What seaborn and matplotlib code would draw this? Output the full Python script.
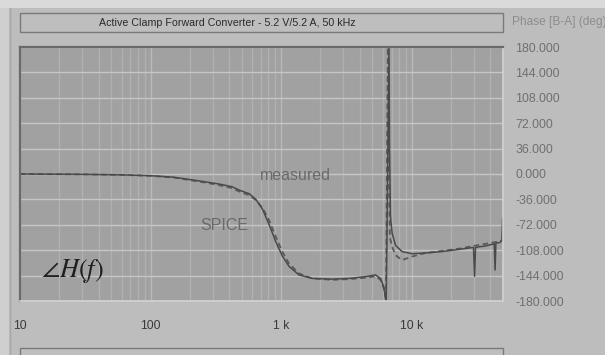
import numpy as np
import pandas as pd
import matplotlib
matplotlib.use("Agg")
import matplotlib.pyplot as plt
import seaborn as sns
from matplotlib.patches import Rectangle
from matplotlib.ticker import FixedLocator, NullFormatter

# ---------------- data ----------------
meas_freq = [10, 30, 60, 100, 150, 240, 330, 420, 480, 570, 640, 720, 810, 910,
             1020, 1150, 1370, 1730, 2470, 3300, 4430, 5280, 5770, 6110, 6290, 6380,
             6700, 6760, 6870, 7080, 7510, 8440, 10050, 12700, 17000, 22800, 29700,
             30300, 30800, 36500, 42800, 43500, 44100, 47500, 49000, 49700]
meas_phase = [0, -0.5, -1.2, -2.4, -4.5, -10, -14, -18, -23, -28, -36, -50, -72, -96,
              -116, -131, -143, -148, -149, -148, -145.5, -143, -148, -160, -175, -179.5,
              179.5, 40, -60, -84, -101, -110, -113, -112, -110, -107, -104,
              -145, -104, -102, -99, -136, -98, -97, -94, -62]

spice_freq = [10, 30, 60, 100, 150, 240, 330, 420, 480, 570, 640, 720, 810, 910,
              1020, 1150, 1370, 1730, 2470, 3300, 4430, 5280, 5770, 6110, 6290, 6350,
              6560, 6680, 6800, 7080, 7510, 8440, 10050, 12700, 17000, 22800, 29700,
              36500, 42300, 47500, 50000]
spice_phase = [0, -0.5, -1.3, -2.6, -5, -11, -15.5, -20, -25, -30, -37, -48, -66, -89,
               -110, -127, -141, -148, -150, -149, -147, -145, -150, -162, -174, -179.5,
               179.5, 0, -90, -103, -115, -122, -117, -112, -109, -106, -102,
               -99, -97, -95, -94]

y_ticks = [180, 144, 108, 72, 36, 0, -36, -72, -108, -144, -180]
x_ticks = [10, 100, 1000, 10000]
x_tick_labels = ["10", "100", "1 k", "10 k"]

title_text = "Active Clamp Forward Converter - 5.2 V/5.2 A, 50 kHz"
axis_title = "Phase [B-A] (deg)"

# ---------------- figure ----------------
sns.set_style("white")
plt.rcParams["font.family"] = ["Liberation Sans", "DejaVu Sans"]

W, H = 605, 355
fig = plt.figure(figsize=(W / 100, H / 100), dpi=100)
fig.patch.set_facecolor("#bdbdbd")

def fx(px):
    return px / W

def fy(py):
    return 1 - py / H

# lighter outer strips
fig.patches.append(Rectangle((0, fy(8)), 1, 8 / H, transform=fig.transFigure,
                             facecolor="#dadada", edgecolor="none", zorder=0))
fig.patches.append(Rectangle((0, 0), fx(9), fy(8), transform=fig.transFigure,
                             facecolor="#cfcfcf", edgecolor="none", zorder=0))
fig.lines.append(plt.Line2D([fx(9.5), fx(9.5)], [0, fy(8)], transform=fig.transFigure,
                            color="#a8a8a8", lw=1))

# title box
fig.patches.append(Rectangle((fx(20), fy(32)), fx(483), 19 / H, transform=fig.transFigure,
                             facecolor="#bebebe", edgecolor="#7a7a7a", lw=1.0, zorder=1))
fig.text(fx(227), fy(22.5), title_text, ha="center", va="center", fontsize=7.7,
         color="#2a2a2a")
fig.text(fx(512), fy(22.5), axis_title, ha="left", va="center", fontsize=8.6,
         color="#8c8c8c")

# bottom box
fig.patches.append(Rectangle((fx(20), fy(365)), fx(483), 17 / H, transform=fig.transFigure,
                             facecolor="#bebebe", edgecolor="#7a7a7a", lw=1.0, zorder=1))

# plot axes
ax_left, ax_right, ax_top, ax_bot = 20, 503, 47, 301
ax = fig.add_axes([fx(ax_left), fy(ax_bot), fx(ax_right - ax_left), (ax_bot - ax_top) / H])
ax.set_facecolor("#a1a1a1")
ax.set_xscale("log")
ax.set_xlim(10, 50000)
ax.set_ylim(-180, 180)

# grid
minor = []
for dec in [10, 100, 1000, 10000]:
    for m in range(2, 10):
        v = dec * m
        if v < 50000:
            minor.append(v)
for v in minor:
    ax.axvline(v, color="#b1b1b1", lw=0.9, zorder=1)
for v in x_ticks:
    ax.axvline(v, color="#bababa", lw=1.0, zorder=1)
for v in y_ticks:
    ax.axhline(v, color="#c6c6c6", lw=1.0, zorder=1)

meas_df = pd.DataFrame({"freq": meas_freq, "phase": meas_phase})
spice_df = pd.DataFrame({"freq": spice_freq, "phase": spice_phase})

sns.lineplot(data=spice_df, x="freq", y="phase", ax=ax, sort=False, estimator=None,
             color="#5a5a5a", lw=1.3, linestyle=(0, (3, 2)), zorder=3)
sns.lineplot(data=meas_df, x="freq", y="phase", ax=ax, sort=False, estimator=None,
             color="#4a4a4a", lw=1.1, zorder=4)

ax.set_xlabel("")
ax.set_ylabel("")

# ticks
ax.xaxis.set_major_locator(FixedLocator(x_ticks))
ax.set_xticklabels(x_tick_labels)
ax.xaxis.set_minor_formatter(NullFormatter())
ax.tick_params(axis="x", which="both", length=0, pad=14, labelsize=8.8, labelcolor="#3a3a3a")
ax.yaxis.tick_right()
ax.set_yticks(y_ticks)
ax.set_yticklabels([f"{v:.3f}" for v in y_ticks])
ax.tick_params(axis="y", which="both", length=0, pad=9, labelsize=8.9, labelcolor="#707070")

# sunken frame
ax.spines["top"].set_color("#6a6a6a")
ax.spines["left"].set_color("#6a6a6a")
ax.spines["top"].set_linewidth(1.6)
ax.spines["left"].set_linewidth(1.6)
ax.spines["bottom"].set_color("#d2d2d2")
ax.spines["right"].set_color("#d2d2d2")
ax.spines["bottom"].set_linewidth(1.2)
ax.spines["right"].set_linewidth(1.2)
for s in ax.spines.values():
    s.set_visible(True)
    s.set_zorder(5)

# annotations
fig.text(fx(295), fy(176), "measured", ha="center", va="center", fontsize=11.5,
         color="#6a6a6a")
fig.text(fx(224), fy(225), "SPICE", ha="center", va="center", fontsize=11.5,
         color="#6a6a6a")
fig.text(fx(72), fy(271), r"$\angle H\left(f\right)$", ha="center", va="center",
         fontsize=19, color="#1e1e1e", math_fontfamily="stix")

fig.savefig("out.png", dpi=100, facecolor=fig.get_facecolor())
